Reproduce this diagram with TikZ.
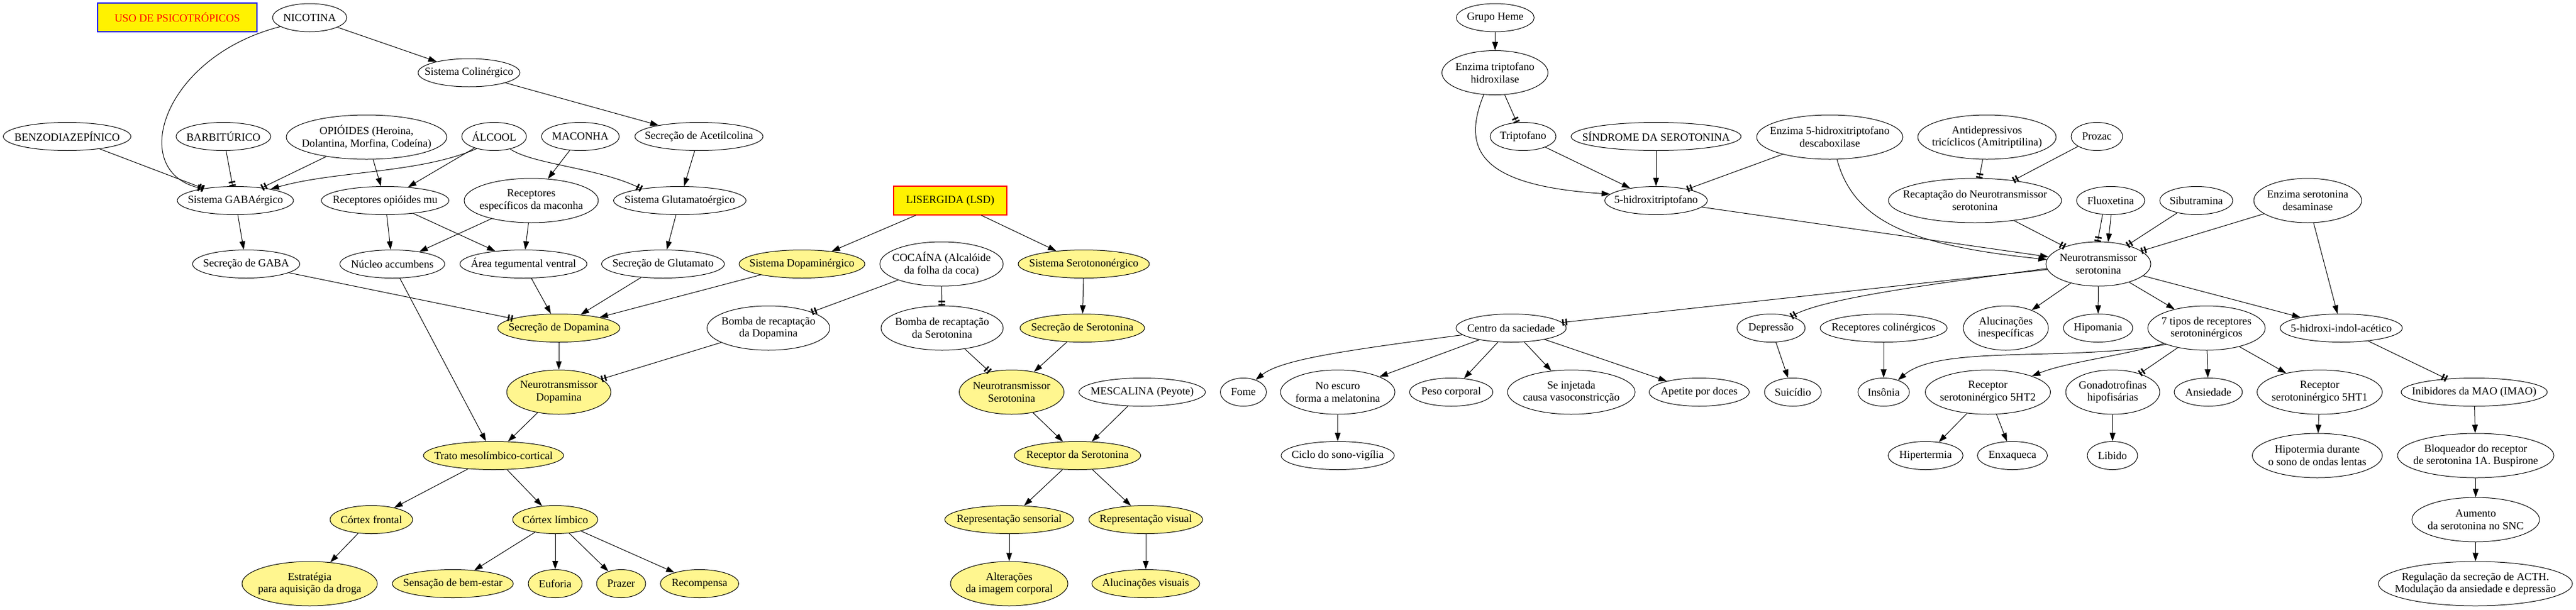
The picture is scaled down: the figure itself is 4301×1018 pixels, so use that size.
\documentclass[tikz,border=0pt]{standalone}
\usepackage{fontspec}
\setmainfont{Liberation Serif}
\usetikzlibrary{arrows.meta,shapes.geometric}
\definecolor{khakione}{HTML}{FFF68F}
\begin{document}
\begin{tikzpicture}[x=1pt,y=-1pt,
 nbase/.style={font=\fontsize{18.2}{20.7}\selectfont, align=center},
 el/.style={nbase, ellipse, draw, line width=1pt, inner xsep=-200pt, inner ysep=0pt, minimum height=47pt},
 yel/.style={el, fill=khakione},
 two/.style={minimum height=74pt},
 wd/.style={minimum width=#1pt},
 titlebox/.style={nbase, rectangle, draw, line width=1.2pt, fill=yellow, inner sep=0pt, minimum height=48pt},
 arr/.style={line width=1pt, -{Triangle[length=14pt,width=9.5pt]}},
 tt/.style={line width=1pt, -{Bar[width=11pt,line width=2.6pt,sep=3pt]Bar[width=11pt,line width=2.6pt]}},
]
\useasboundingbox (0,0) rectangle (4301,1018);

% ---------------- left part ----------------
\node[titlebox, draw=blue, text=red, wd=266] (uso) at (296,29) {USO DE PSICOTRÓPICOS};
\node[el, wd=124] (nic) at (517,29.5) {NICOTINA};
\node[el, wd=170] (colin) at (783,121.5) {Sistema Colinérgico};
\node[el, wd=213] (benzo) at (112,228) {BENZODIAZEPÍNICO};
\node[el, wd=158] (barb) at (373,228) {BARBITÚRICO};
\node[el, two, wd=268] (opi) at (612,229) {OPIÓIDES (Heroina,\\ Dolantina, Morfina, Codeína)};
\node[el, wd=108] (alc) at (825,228) {ÁLCOOL};
\node[el, wd=130] (mac) at (969,228) {MACONHA};
\node[el, wd=214] (sacet) at (1167,228) {Secreção de Acetilcolina};
\node[el, wd=194] (gaba) at (393,335) {Sistema GABAérgico};
\node[el, wd=213] (rmu) at (643,335) {Receptores opióides mu};
\node[el, two, wd=224] (rmac) at (887,335) {Receptores\\ específicos da maconha};
\node[el, wd=221] (glut) at (1135,335) {Sistema Glutamatoérgico};
\node[el, wd=179] (sgaba) at (411,441) {Secreção de GABA};
\node[el, wd=175] (nacc) at (655,441) {Núcleo accumbens};
\node[el, wd=212] (atv) at (874,441) {Área tegumental ventral};
\node[el, wd=205] (sglu) at (1107,441) {Secreção de Glutamato};
\node[yel, wd=210] (sdop) at (1339,441) {Sistema Dopaminérgico};
\node[titlebox, draw=red, wd=189] (lsd) at (1586.5,335) {LISERGIDA (LSD)};
\node[el, two, wd=206] (coca) at (1572,441) {COCAÍNA (Alcalóide\\ da folha da coca)};
\node[yel, wd=219] (sser) at (1809.5,441) {Sistema Serotononérgico};
\node[yel, wd=204] (secdop) at (933,548) {Secreção de Dopamina};
\node[el, two, wd=205] (bdop) at (1283,548) {Bomba de recaptação\\ da Dopamina};
\node[el, two, wd=204] (bser) at (1573,548) {Bomba de recaptação\\ da Serotonina};
\node[yel, wd=208] (secser) at (1807,548) {Secreção de Serotonina};
\node[yel, two, wd=174] (ntdop) at (933,655) {Neurotransmissor\\ Dopamina};
\node[yel, two, wd=175] (ntser) at (1689,655) {Neurotransmissor\\ Serotonina};
\node[el, wd=211] (mesc) at (1907,655) {MESCALINA (Peyote)};
\node[yel, wd=234] (trato) at (824,761) {Trato mesolímbico-cortical};
\node[yel, wd=211] (recser) at (1799,761) {Receptor da Serotonina};
\node[yel, wd=138] (cfront) at (620,868) {Córtex frontal};
\node[yel, wd=142] (climb) at (927,868) {Córtex límbico};
\node[yel, wd=215] (rsens) at (1685,868) {Representação sensorial};
\node[yel, wd=190] (rvis) at (1913,868) {Representação visual};
\node[yel, two, wd=226] (estr) at (517,975) {Estratégia\\ para aquisição da droga};
\node[yel, wd=202] (bemestar) at (756,975) {Sensação de bem-estar};
\node[yel, wd=90] (euf) at (927,975) {Euforia};
\node[yel, wd=82] (praz) at (1037,975) {Prazer};
\node[yel, wd=131] (recomp) at (1168,975) {Recompensa};
\node[yel, two, wd=196] (alter) at (1685,975) {Alterações\\ da imagem corporal};
\node[yel, wd=180] (aluvis) at (1913,975) {Alucinações visuais};

% ---------------- right part ----------------
\node[el, wd=130] (heme) at (2496.5,29.5) {Grupo Heme};
\node[el, two, wd=177] (eth) at (2496,121.5) {Enzima triptofano\\ hidroxilase};
\node[el, wd=110] (trip) at (2543,228) {Triptofano};
\node[el, wd=284] (sind) at (2765,228) {SÍNDROME DA SEROTONINA};
\node[el, two, wd=244] (edesc) at (3055,229) {Enzima 5-hidroxitriptofano\\ descaboxilase};
\node[el, two, wd=231] (antid) at (3317.5,229) {Antidepressivos\\ tricíclicos (Amitriptilina)};
\node[el, wd=86] (prozac) at (3501,228) {Prozac};
\node[el, wd=171] (htp) at (2765,335) {5-hidroxitriptofano};
\node[el, two, wd=289] (recap) at (3297.5,335) {Recaptação do Neurotransmissor\\ serotonina};
\node[el, wd=114] (fluox) at (3524,335) {Fluoxetina};
\node[el, wd=122] (sibu) at (3667,335) {Sibutramina};
\node[el, two, wd=180] (edes) at (3853,335) {Enzima serotonina\\ desaminase};
\node[el, two, wd=175] (ntsero) at (3503.5,441) {Neurotransmissor\\ serotonina};
\node[el, wd=184] (centro) at (2523,548) {Centro da saciedade};
\node[el, wd=114] (depr) at (2957,548) {Depressão};
\node[el, wd=212] (rcol) at (3145,548) {Receptores colinérgicos};
\node[el, two, wd=142] (aluin) at (3349,548) {Alucinações\\ inespecíficas};
\node[el, wd=116] (hipom) at (3503,548) {Hipomania};
\node[el, two, wd=196] (sete) at (3684,548) {7 tipos de receptores\\ serotoninérgicos};
\node[el, wd=204] (hiac) at (3909,548) {5-hidroxi-indol-acético};
\node[el, wd=77] (fome) at (2076,655) {Fome};
\node[el, two, wd=191] (noesc) at (2233.5,655) {No escuro\\ forma a melatonina};
\node[el, wd=139] (peso) at (2423,655) {Peso corporal};
\node[el, two, wd=213] (seinj) at (2623.5,655) {Se injetada\\ causa vasoconstricção};
\node[el, wd=167] (apet) at (2837,655) {Apetite por doces};
\node[el, wd=95] (suic) at (2993.5,655) {Suicídio};
\node[el, wd=86] (inson) at (3145,655) {Insônia};
\node[el, two, wd=209] (r5ht2) at (3319,655) {Receptor\\ serotoninérgico 5HT2};
\node[el, two, wd=157] (gonad) at (3527.5,655) {Gonadotrofinas\\ hipofisárias};
\node[el, wd=114] (ansi) at (3687,655) {Ansiedade};
\node[el, two, wd=209] (r5ht1) at (3873,655) {Receptor\\ serotoninérgico 5HT1};
\node[el, wd=244] (imao) at (4131,655) {Inibidores da MAO (IMAO)};
\node[el, wd=189] (ciclo) at (2233.5,761) {Ciclo do sono-vigília};
\node[el, wd=125] (hiper) at (3215,761) {Hipertermia};
\node[el, wd=117] (enxa) at (3360,761) {Enxaqueca};
\node[el, wd=84] (libido) at (3527,761) {Libido};
\node[el, two, wd=217] (hipot) at (3869,761) {Hipotermia durante\\ o sono de ondas lentas};
\node[el, two, wd=261] (bloq) at (4133.5,761) {Bloqueador do receptor\\ de serotonina 1A. Buspirone};
\node[el, two, wd=213] (aum) at (4133.5,868) {Aumento\\ da serotonina no SNC};
\node[el, two, wd=324] (regul) at (4133,975) {Regulação da secreção de ACTH.\\ Modulação da ansiedade e depressão};

% ---------------- left edges ----------------
\draw[arr] (nic) -- (colin);
\draw[tt] (nic.197) .. controls (270,95) and (210,290) .. (gaba.160);
\draw[tt] (benzo) -- (gaba);
\draw[tt] (barb) -- (gaba);
\draw[tt] (opi) -- (gaba);
\draw[arr] (alc.215) .. controls (700,290) and (560,285) .. (gaba.18);
\draw[arr] (opi) -- (rmu);
\draw[arr] (alc) -- (rmu);
\draw[tt] (alc.322) .. controls (890,275) and (1000,280) .. (glut.163);
\draw[arr] (mac) -- (rmac);
\draw[arr] (colin) -- (sacet);
\draw[arr] (sacet) -- (glut);
\draw[arr] (gaba) -- (sgaba);
\draw[arr] (rmu) -- (nacc);
\draw[arr] (rmu) -- (atv);
\draw[arr] (rmac) -- (nacc);
\draw[arr] (rmac) -- (atv);
\draw[arr] (glut) -- (sglu);
\draw[tt] (sgaba) -- (secdop);
\draw[arr] (nacc) -- (trato);
\draw[arr] (atv) -- (secdop);
\draw[arr] (sglu) -- (secdop);
\draw[arr] (sdop) -- (secdop);
\draw[arr] (lsd) -- (sdop);
\draw[arr] (lsd) -- (sser);
\draw[tt] (coca) -- (bdop);
\draw[tt] (coca) -- (bser);
\draw[tt] (bdop) -- (ntdop);
\draw[arr] (secdop) -- (ntdop);
\draw[arr] (ntdop) -- (trato);
\draw[arr] (trato) -- (cfront);
\draw[arr] (trato) -- (climb);
\draw[arr] (cfront) -- (estr);
\draw[arr] (climb) -- (bemestar);
\draw[arr] (climb) -- (euf);
\draw[arr] (climb) -- (praz);
\draw[arr] (climb) -- (recomp);
\draw[arr] (sser) -- (secser);
\draw[tt] (bser) -- (ntser);
\draw[arr] (secser) -- (ntser);
\draw[arr] (ntser) -- (recser);
\draw[arr] (mesc) -- (recser);
\draw[arr] (recser) -- (rsens);
\draw[arr] (recser) -- (rvis);
\draw[arr] (rsens) -- (alter);
\draw[arr] (rvis) -- (aluvis);

% ---------------- right edges ----------------
\draw[arr] (heme) -- (eth);
\draw[tt] (eth) -- (trip);
\draw[arr] (eth.243) .. controls (2440,250) and (2470,310) .. (htp.172);
\draw[arr] (trip) -- (htp);
\draw[arr] (sind) -- (htp);
\draw[tt] (edesc) -- (htp);
\draw[arr] (edesc.288) .. controls (3095,370) and (3190,410) .. (ntsero.175);
\draw[arr] (htp) -- (ntsero);
\draw[tt] (antid) -- (recap);
\draw[tt] (prozac) -- (recap);
\draw[tt] (recap) -- (ntsero);
\draw[tt] (fluox.240) -- (ntsero.92);
\draw[arr] (fluox.272) -- (ntsero.66);
\draw[tt] (sibu) -- (ntsero);
\draw[tt] (edes) -- (ntsero);
\draw[arr] (edes) -- (hiac);
\draw[arr] (ntsero) -- (hiac);
\draw[arr] (ntsero) -- (sete);
\draw[arr] (ntsero) -- (hipom);
\draw[arr] (ntsero) -- (aluin);
\draw[tt] (ntsero) -- (centro);
\draw[tt] (ntsero.185) .. controls (3200,478) and (3040,500) .. (depr.30);
\draw[arr] (centro.188) .. controls (2250,585) and (2140,600) .. (fome.45);
\draw[arr] (centro) -- (noesc);
\draw[arr] (centro) -- (peso);
\draw[arr] (centro) -- (seinj);
\draw[arr] (centro) -- (apet);
\draw[arr] (noesc) -- (ciclo);
\draw[arr] (depr) -- (suic);
\draw[arr] (rcol) -- (inson);
\draw[arr] (sete.202) .. controls (3450,605) and (3240,575) .. (inson.40);
\draw[arr] (sete.200) .. controls (3540,595) and (3450,605) .. (r5ht2.20);
\draw[tt] (sete) -- (gonad);
\draw[arr] (sete) -- (ansi);
\draw[arr] (sete) -- (r5ht1);
\draw[arr] (r5ht2) -- (hiper);
\draw[arr] (r5ht2) -- (enxa);
\draw[arr] (gonad) -- (libido);
\draw[arr] (r5ht1) -- (hipot);
\draw[tt] (hiac) -- (imao);
\draw[arr] (imao) -- (bloq);
\draw[arr] (bloq) -- (aum);
\draw[arr] (aum) -- (regul);
\end{tikzpicture}
\end{document}
